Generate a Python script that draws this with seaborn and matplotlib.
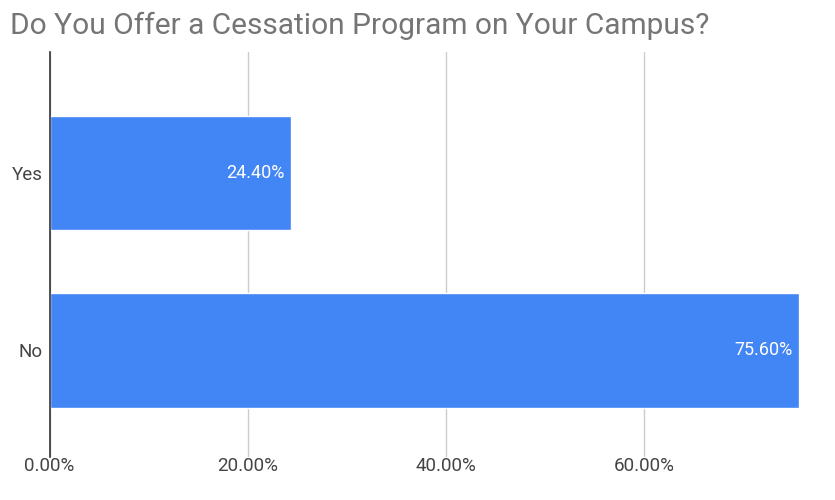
import matplotlib
matplotlib.use("Agg")
import matplotlib.pyplot as plt
import seaborn as sns
import pandas as pd
from matplotlib.ticker import FuncFormatter

answers = ["Yes", "No"]
shares = [24.40, 75.60]
x_ticks = [0, 20, 40, 60]

df = pd.DataFrame({"answer": answers, "share": shares})

sns.set_theme(style="white")
plt.rcParams["font.family"] = ["Roboto", "DejaVu Sans"]

fig = plt.figure(figsize=(8.35, 5.0), dpi=100)
ax = fig.add_axes([0.0593, 0.086, 0.899, 0.810])

sns.barplot(data=df, x="share", y="answer", orient="h", color="#4285F4",
            saturation=1, width=0.645, ax=ax, zorder=3)

ax.set_xlim(0, 75.7)
ax.set_ylim(1.6, -0.68)
ax.set_xticks(x_ticks)
ax.xaxis.set_major_formatter(FuncFormatter(lambda v, p: f"{v:.2f}%"))
ax.grid(axis="x", color="#cccccc", linewidth=1, zorder=0)
ax.tick_params(axis="both", length=0, labelsize=13.5, labelcolor="#444444")
ax.tick_params(axis="x", pad=0)
ax.tick_params(axis="y", pad=5)
ax.set_xlabel("")
ax.set_ylabel("")

for side in ["top", "right", "bottom"]:
    ax.spines[side].set_visible(False)
ax.spines["left"].set_color("#333333")
ax.spines["left"].set_linewidth(1.2)
ax.spines["left"].set_zorder(5)

for container in ax.containers:
    labels = ax.bar_label(container, labels=[f"{v:.2f}%" for v in shares],
                          label_type="edge", padding=-5, color="white",
                          fontsize=13)
    for t in labels:
        t.set_ha("right")

fig.text(0.012, 0.948, "Do You Offer a Cessation Program on Your Campus?",
         fontsize=21.5, color="#757575", ha="left", va="center")

fig.savefig("out.png", dpi=100, facecolor="white")
